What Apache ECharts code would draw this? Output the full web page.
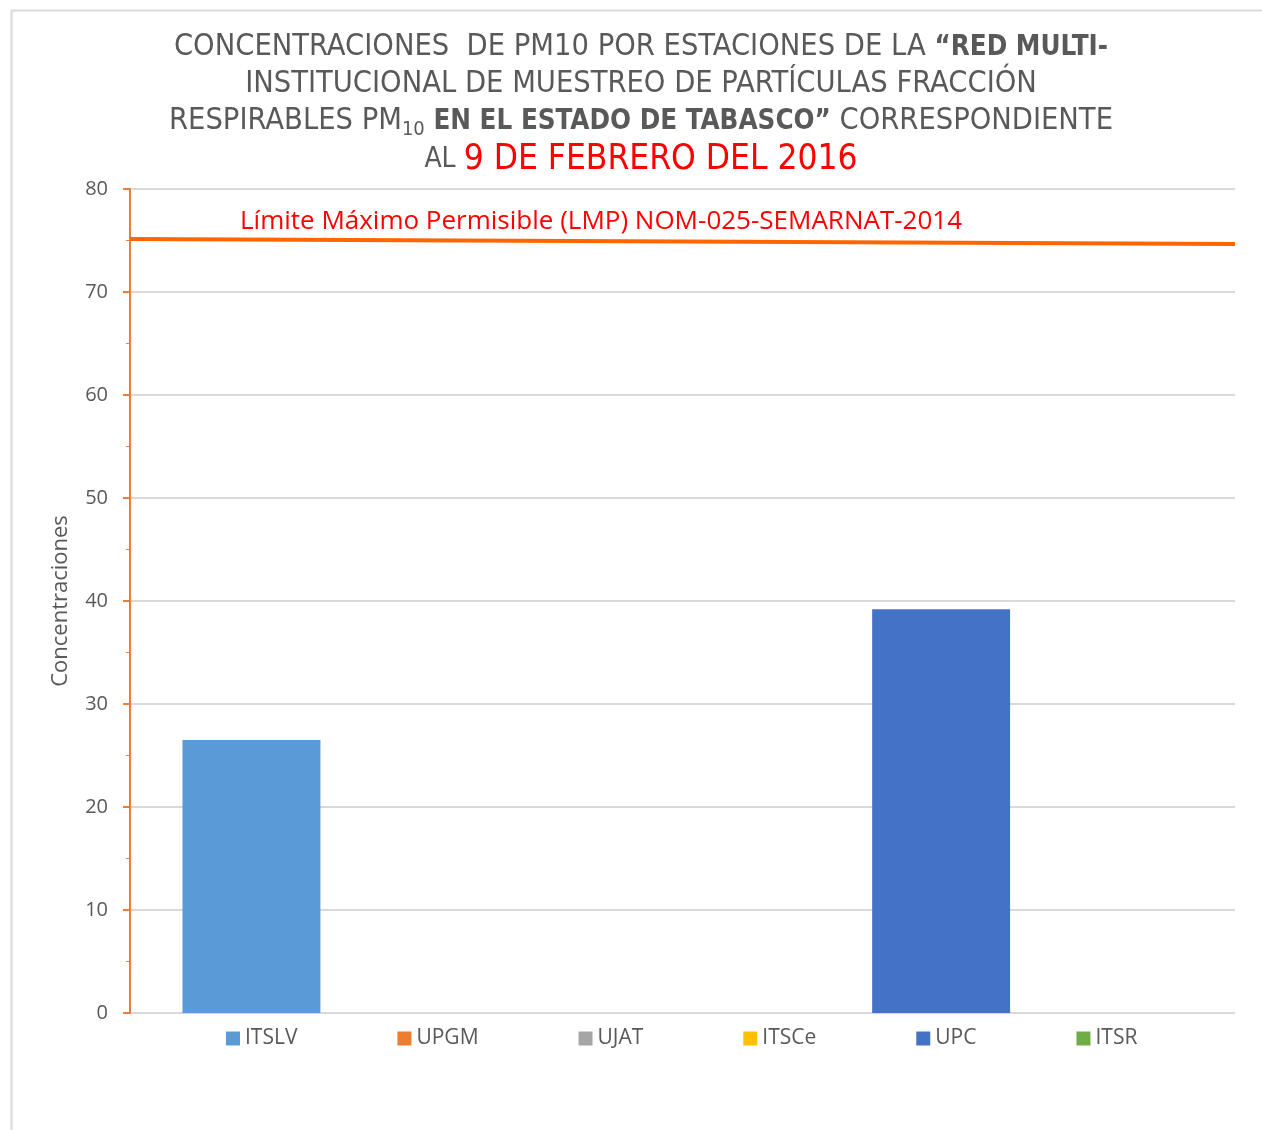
<!DOCTYPE html>
<html>
<head>
<meta charset="utf-8">
<script src="https://cdn.jsdelivr.net/npm/echarts@6/dist/echarts.min.js"></script>
<style>
html,body{margin:0;padding:0;background:#fff;}
#chart{width:1262px;height:1130px;}
</style>
</head>
<body>
<div id="chart"></div>
<script>
// ---- data ----
var stations = ['ITSLV', 'UPGM', 'UJAT', 'ITSCe', 'UPC', 'ITSR'];
var concentrations = [26.5, 0, 0, 0, 39.2, 0];
var stationColors = ['#5B9BD5', '#ED7D31', '#A5A5A5', '#FFC000', '#4472C4', '#70AD47'];
var category = ['9 de febrero 2016'];
var lmpPoints = ['inicio', 'fin'];
var lmpValues = [75.15, 74.65];
var lmpText = 'Límite Máximo Permisible (LMP) NOM-025-SEMARNAT-2014';
var yMin = 0, yMax = 80, yStep = 10;

var TITLE_FONT = "'DejaVu Sans Condensed', 'Liberation Sans Narrow', 'Liberation Sans', sans-serif";
var BODY_FONT = "'Open Sans', 'Noto Sans', sans-serif";

var chart = echarts.init(document.getElementById('chart'), null, {renderer: 'canvas'});

var series = stations.map(function (name, i) {
  return {
    name: name,
    type: 'bar',
    xAxisIndex: 0,
    data: [concentrations[i]],
    itemStyle: {color: stationColors[i]},
    barGap: '25%',
    barCategoryGap: '9.5%',
    emphasis: {disabled: true}
  };
});
series.push({
  name: 'LMP',
  type: 'line',
  xAxisIndex: 1,
  data: lmpValues,
  symbol: 'none',
  lineStyle: {color: '#FF6600', width: 4},
  z: 5,
  silent: true
});

var option = {
  animation: false,
  backgroundColor: '#fff',
  title: {
    left: 636,
    textAlign: 'center',
    top: 24,
    text: '{n|CONCENTRACIONES  DE PM10 POR ESTACIONES DE LA }{b|“RED MULTI-}\n' +
          '{n|INSTITUCIONAL DE MUESTREO DE PARTÍCULAS FRACCIÓN}\n' +
          '{n|RESPIRABLES PM}{sub|10}{b| EN EL ESTADO DE TABASCO” }{n|CORRESPONDIENTE}\n' +
          '{s|AL }{r|9 DE FEBRERO DEL 2016}',
    textStyle: {
      fontWeight: 'normal',
      rich: {
        n: {fontFamily: TITLE_FONT, fontSize: 30.5, fontWeight: 'normal', color: '#595959', lineHeight: 37},
        b: {fontFamily: TITLE_FONT, fontSize: 27.5, color: '#595959', fontWeight: 'bold', lineHeight: 37},
        sub: {fontFamily: TITLE_FONT, fontSize: 20, fontWeight: 'normal', color: '#595959', lineHeight: 16, verticalAlign: 'bottom'},
        s: {fontFamily: TITLE_FONT, fontSize: 28, fontWeight: 'normal', color: '#595959', lineHeight: 40},
        r: {fontFamily: TITLE_FONT, fontSize: 35, fontWeight: 'normal', color: '#FF0000', lineHeight: 40}
      }
    }
  },
  legend: {
    data: stations,
    bottom: 76,
    left: 221,
    itemWidth: 14,
    itemHeight: 14,
    itemGap: 100,
    icon: 'rect',
    textStyle: {fontFamily: BODY_FONT, fontSize: 21, color: '#595959'}
  },
  grid: {left: 130, right: 27, top: 189, bottom: 117},
  xAxis: [{
    type: 'category',
    data: category,
    axisLine: {show: false},
    axisTick: {show: false},
    axisLabel: {show: false}
  }, {
    type: 'category',
    data: lmpPoints,
    boundaryGap: false,
    show: false
  }],
  yAxis: {
    type: 'value',
    min: yMin,
    max: yMax,
    interval: yStep,
    name: 'Concentraciones',
    nameLocation: 'middle',
    nameGap: 58,
    nameTextStyle: {fontFamily: BODY_FONT, fontSize: 22, color: '#595959'},
    axisLine: {show: true, lineStyle: {color: '#ED7D31', width: 2}},
    axisTick: {show: true, length: 7, lineStyle: {color: '#ED7D31', width: 2}},
    minorTick: {show: true, splitNumber: 2, length: 4, lineStyle: {color: '#ED7D31', width: 1}},
    axisLabel: {fontFamily: BODY_FONT, fontSize: 20, color: '#595959', margin: 22},
    splitLine: {show: true, lineStyle: {color: '#D9D9D9', width: 2}}
  },
  graphic: [{
    type: 'rect',
    left: 9, top: 8,
    shape: {width: 1400, height: 1300},
    style: {fill: 'none', stroke: '#D9D9D9', lineWidth: 2},
    silent: true
  }, {
    type: 'text',
    left: 240, top: 209,
    style: {text: lmpText, fill: '#FF0000', font: "26px 'Open Sans', 'Noto Sans', sans-serif"},
    silent: true
  }],
  series: series
};
chart.setOption(option);
</script>
</body>
</html>
